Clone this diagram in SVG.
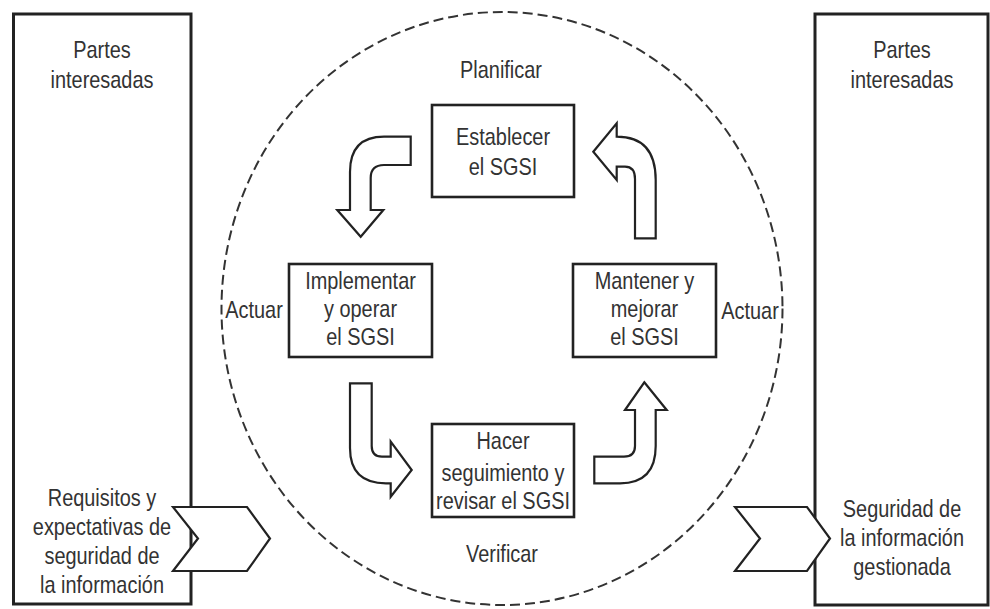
<svg xmlns="http://www.w3.org/2000/svg" width="990" height="609" viewBox="0 0 990 609">
<style>
.t{font-family:"Liberation Sans",Arial,sans-serif;font-size:24px;fill:#333;text-anchor:middle}
.box{fill:#fff;stroke:#222;stroke-width:2.6}
.big{fill:#fff;stroke:#222;stroke-width:3}
.arr{fill:#fff;stroke:#222;stroke-width:2.2;stroke-linejoin:miter}
.cyc{fill:none;stroke:#333;stroke-width:2;stroke-dasharray:10 5}
</style>
<rect width="990" height="609" fill="#fff"/>
<g id="partes-izq">
<rect class="big" x="13.5" y="14" width="177.5" height="590"/>
<text class="t" transform="translate(102 0) scale(0.83 1)"><tspan x="0" y="58">Partes</tspan><tspan x="0" y="88">interesadas</tspan></text>
<text class="t" transform="translate(102 0) scale(0.83 1)"><tspan x="0" y="506">Requisitos y</tspan><tspan x="0" y="535">expectativas de</tspan><tspan x="0" y="564">seguridad de</tspan><tspan x="0" y="593">la información</tspan></text>
</g>
<g id="partes-der">
<rect class="big" x="815" y="14" width="173" height="591"/>
<text class="t" transform="translate(902 0) scale(0.83 1)"><tspan x="0" y="58">Partes</tspan><tspan x="0" y="88">interesadas</tspan></text>
<text class="t" transform="translate(902 0) scale(0.83 1)"><tspan x="0" y="517">Seguridad de</tspan><tspan x="0" y="546">la información</tspan><tspan x="0" y="575">gestionada</tspan></text>
</g>
<g id="ciclo">
<ellipse class="cyc" cx="502" cy="308.5" rx="280.5" ry="296.5"/>
<text class="t" transform="translate(501 0) scale(0.83 1)" x="0" y="78">Planificar</text>
<text class="t" transform="translate(502 0) scale(0.83 1)" x="0" y="562">Verificar</text>
<text class="t" transform="translate(254 0) scale(0.83 1)" x="0" y="318">Actuar</text>
<text class="t" transform="translate(750 0) scale(0.83 1)" x="0" y="319">Actuar</text>
</g>
<g id="establecer">
<rect class="box" x="432" y="105" width="142" height="92"/>
<text class="t" transform="translate(503 0) scale(0.83 1)"><tspan x="0" y="145">Establecer</tspan><tspan x="0" y="175">el SGSI</tspan></text>
</g>
<g id="implementar">
<rect class="box" x="289" y="264" width="143" height="93"/>
<text class="t" transform="translate(360.5 0) scale(0.83 1)"><tspan x="0" y="289">Implementar</tspan><tspan x="0" y="317">y operar</tspan><tspan x="0" y="345">el SGSI</tspan></text>
</g>
<g id="mantener">
<rect class="box" x="573" y="264" width="143" height="93"/>
<text class="t" transform="translate(644.5 0) scale(0.83 1)"><tspan x="0" y="289">Mantener y</tspan><tspan x="0" y="317">mejorar</tspan><tspan x="0" y="345">el SGSI</tspan></text>
</g>
<g id="hacer">
<rect class="box" x="432" y="424" width="142" height="93"/>
<text class="t" transform="translate(503 0) scale(0.83 1)"><tspan x="0" y="449">Hacer</tspan><tspan x="0" y="481">seguimiento y</tspan><tspan x="0" y="509">revisar el SGSI</tspan></text>
</g>
<g id="conectores">
<path class="arr" d="M410.7,136.7 L384,136.7 Q350,136.7 350,172 L350,210 L337.3,210 L360.7,236.7 L383.3,210 L370.7,210 L370.7,178 Q370.7,165 384,165 L410.7,165 Z"/>
<path class="arr" d="M593.3,151.7 L616.7,123.3 L616.7,136.7 Q655.7,136.7 655.7,180 L655.7,238.3 L635,238.3 L635,179 Q635,166.7 625,166.7 L616.7,166.7 L616.7,180 Z"/>
<path class="arr" d="M350,383.3 L371.7,383.3 L371.7,446 Q371.7,456.7 382,456.7 L390.7,456.7 L390.7,441.7 L411.7,470 L390.7,496.7 L390.7,483.3 L386,483.3 Q350,483.3 350,448 Z"/>
<path class="arr" d="M644.3,382.3 L666.7,410 L655.7,410 L655.7,446 Q655.7,483.3 620,483.3 L594.3,483.3 L594.3,456.7 L624,456.7 Q635,456.7 635,446 L635,410 L625,410 Z"/>
<path class="arr" d="M173,507 L247,507 L270,538.5 L247,571 L173,571 L198,538.5 Z"/>
<path class="arr" d="M735,507 L807,507 L830,538.5 L807,571 L735,571 L760,538.5 Z"/>
</g>
</svg>
